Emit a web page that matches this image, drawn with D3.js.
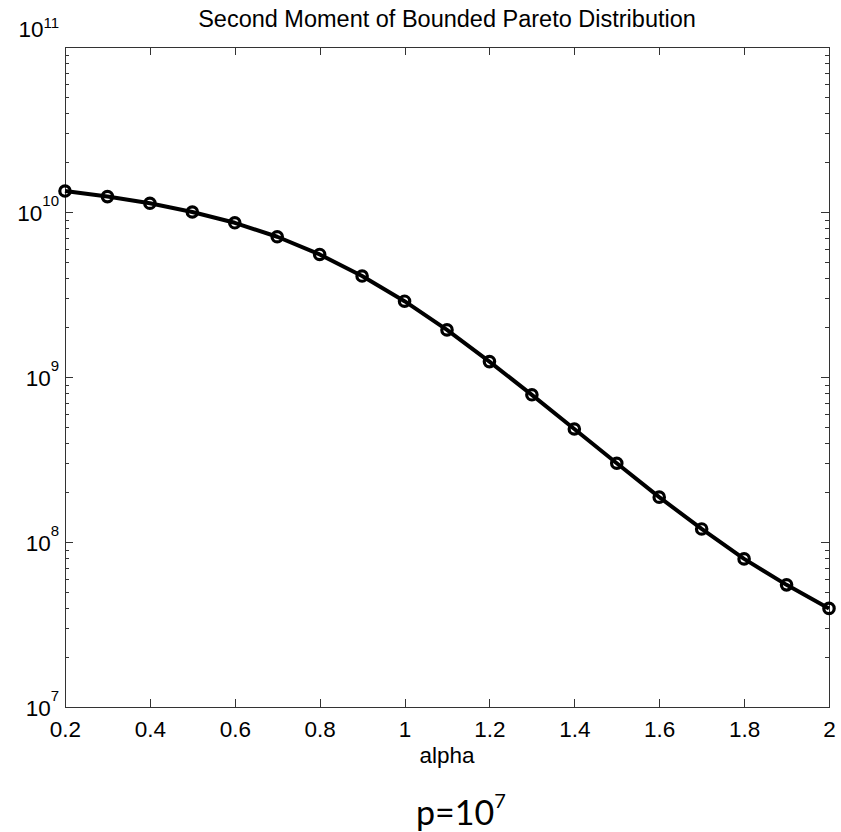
<!DOCTYPE html>
<html>
<head>
<meta charset="utf-8">
<script src="https://cdn.jsdelivr.net/npm/d3@7"></script>
<style>
body { margin: 0; background: #fff; }
svg text { font-family: "Liberation Sans", Arial, Helvetica, sans-serif; fill: #000; }
</style>
</head>
<body>
<svg id="chart" width="841" height="832"></svg>
<script>
// data ----------------------------------------------------------------
var alpha = [0.2, 0.3, 0.4, 0.5, 0.6, 0.7, 0.8, 0.9, 1.0, 1.1,
             1.2, 1.3, 1.4, 1.5, 1.6, 1.7, 1.8, 1.9, 2.0];
var moment = [1.34e10, 1.24e10, 1.13e10, 1.0e10, 8.6e9, 7.08e9, 5.53e9, 4.09e9, 2.88e9, 1.93e9,
              1.24e9, 7.8e8, 4.84e8, 3.0e8, 1.87e8, 1.2e8, 7.9e7, 5.5e7, 3.96e7];
var xTicks = [0.2, 0.4, 0.6, 0.8, 1, 1.2, 1.4, 1.6, 1.8, 2];
var xTickLabels = ["0.2", "0.4", "0.6", "0.8", "1", "1.2", "1.4", "1.6", "1.8", "2"];
var yDecades = [1e7, 1e8, 1e9, 1e10, 1e11];
var yExponents = ["7", "8", "9", "10", "11"];

var titleText = "Second Moment of Bounded Pareto Distribution";
var xLabel = "alpha";

var W = 841, H = 832;
var margin = {left: 65, right: 12, top: 47, bottom: 125};

var svg = d3.select('#chart');

var x = d3.scaleLinear().domain([0.2, 2]).range([margin.left, W - margin.right]);
var y = d3.scaleLog().domain([1e7, 1e11]).range([H - margin.bottom, margin.top]);

var x0 = x.range()[0], x1 = x.range()[1];
var y0 = y.range()[0], y1 = y.range()[1];

// minor ticks on the log axis (2..9 x 10^k)
var yMinor = y.ticks().filter(function (d) { return yDecades.indexOf(d) < 0; });

function styleAxis(g) {
  g.select('.domain').remove();
  g.selectAll('line').attr('stroke', '#333').attr('shape-rendering', 'crispEdges');
}

// x axes, ticks pointing in ---------------------------------------------
svg.append('g')
  .attr('transform', 'translate(0,' + y0 + ')')
  .call(d3.axisBottom(x).tickValues(xTicks).tickSizeInner(-8).tickSizeOuter(0).tickPadding(14)
    .tickFormat(function (d, i) { return xTickLabels[i]; }))
  .call(styleAxis)
  .call(function (g) {
    g.selectAll('text').attr('font-size', 22.5).attr('font-family', '"Liberation Sans", Arial, sans-serif').attr('fill', '#000');
  });

svg.append('g')
  .attr('transform', 'translate(0,' + y1 + ')')
  .call(d3.axisTop(x).tickValues(xTicks).tickSizeInner(-8).tickSizeOuter(0).tickFormat(''))
  .call(styleAxis);

// y axes: major + minor ---------------------------------------------------
svg.append('g')
  .attr('transform', 'translate(' + x0 + ',0)')
  .call(d3.axisLeft(y).tickValues(yDecades).tickSizeInner(-8).tickSizeOuter(0).tickFormat(''))
  .call(styleAxis);
svg.append('g')
  .attr('transform', 'translate(' + x0 + ',0)')
  .call(d3.axisLeft(y).tickValues(yMinor).tickSizeInner(-4).tickSizeOuter(0).tickFormat(''))
  .call(styleAxis);
svg.append('g')
  .attr('transform', 'translate(' + x1 + ',0)')
  .call(d3.axisRight(y).tickValues(yDecades).tickSizeInner(-8).tickSizeOuter(0).tickFormat(''))
  .call(styleAxis);
svg.append('g')
  .attr('transform', 'translate(' + x1 + ',0)')
  .call(d3.axisRight(y).tickValues(yMinor).tickSizeInner(-4).tickSizeOuter(0).tickFormat(''))
  .call(styleAxis);

// frame
svg.append('rect')
  .attr('x', x0).attr('y', y1)
  .attr('width', x1 - x0).attr('height', y0 - y1)
  .attr('fill', 'none').attr('stroke', '#333').attr('stroke-width', 1)
  .attr('shape-rendering', 'crispEdges');

// y tick labels as 10^k
var yLab = svg.append('g').selectAll('text')
  .data(yDecades)
  .enter().append('text')
  .attr('text-anchor', 'end')
  .attr('x', x0 - 6)
  .attr('y', function (d) {
    // top label is pushed up above the axis like matlab does
    return d === 1e11 ? y(d) - 10 : y(d) + 9;
  })
  .attr('font-size', 22.5);
yLab.append('tspan').text('10');
yLab.append('tspan')
  .attr('font-size', 15)
  .attr('dy', function (d) { return d === 1e11 ? -9 : -15; })
  .text(function (d, i) { return yExponents[i]; });

// curve and markers -----------------------------------------------------
var pts = alpha.map(function (a, i) { return [a, moment[i]]; });

var line = d3.line()
  .x(function (d) { return x(d[0]); })
  .y(function (d) { return y(d[1]); });

svg.append('path')
  .datum(pts)
  .attr('d', line)
  .attr('fill', 'none')
  .attr('stroke', '#000')
  .attr('stroke-width', 4)
  .attr('stroke-linejoin', 'round');

svg.append('g').selectAll('circle')
  .data(pts)
  .enter().append('circle')
  .attr('cx', function (d) { return x(d[0]); })
  .attr('cy', function (d) { return y(d[1]); })
  .attr('r', 5.2)
  .attr('fill', 'none')
  .attr('stroke', '#000')
  .attr('stroke-width', 3.2);

// texts ---------------------------------------------------------------
svg.append('text')
  .attr('x', (x0 + x1) / 2)
  .attr('y', 27)
  .attr('text-anchor', 'middle')
  .attr('font-size', 23.5)
  .text(titleText);

svg.append('text')
  .attr('x', (x0 + x1) / 2)
  .attr('y', 763)
  .attr('text-anchor', 'middle')
  .attr('font-size', 22.5)
  .text(xLabel);

// caption under the figure
var cap = svg.append('text')
  .attr('x', 416)
  .attr('y', 825)
  .style('font-family', 'Lato, "Noto Sans", sans-serif')
  .attr('font-size', 34);
cap.append('tspan').text('p=10');
cap.append('tspan').attr('font-size', 20).attr('dy', -17).text('7');
</script>
</body>
</html>
